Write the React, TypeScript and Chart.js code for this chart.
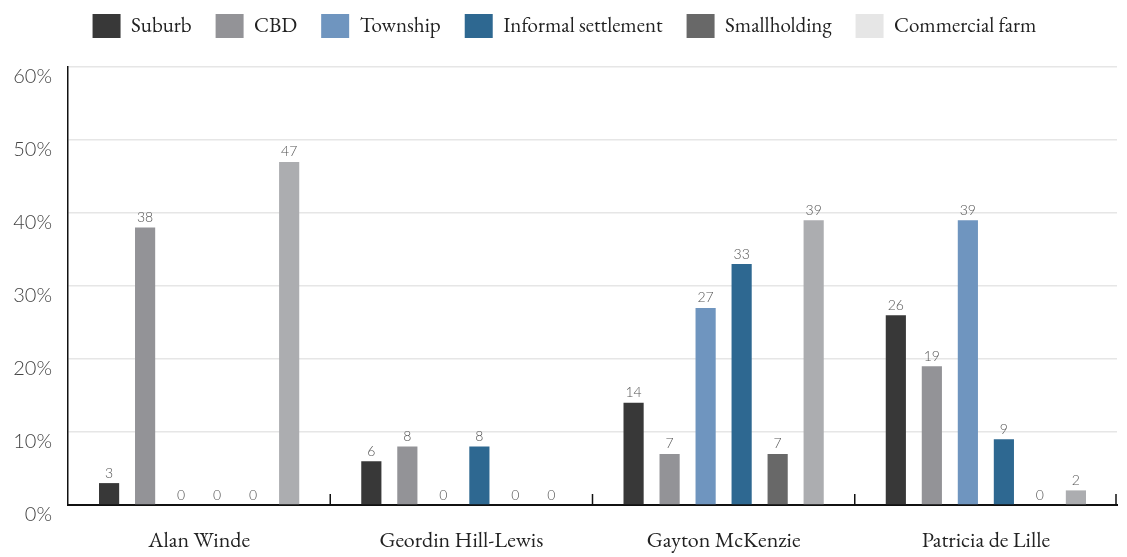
import React, { useEffect, useRef } from "react";
import { Chart, registerables } from "chart.js";

Chart.register(...registerables);

const categories = ["Alan Winde", "Geordin Hill-Lewis", "Gayton McKenzie", "Patricia de Lille"];
const seriesNames = ["Suburb", "CBD", "Township", "Informal settlement", "Smallholding", "Commercial farm"];
const suburb = [3, 6, 14, 26];
const cbd = [38, 8, 7, 19];
const township = [0, 0, 27, 39];
const informal = [0, 8, 33, 9];
const smallholding = [0, 0, 7, 0];
const commercialFarm = [47, 0, 39, 2];
const yTicks = [0, 10, 20, 30, 40, 50, 60];

const barColors = ["#383838", "#939397", "#6f95bf", "#2e6891", "#686868", "#acadb0"];
const legendColors = ["#383838", "#939397", "#6f95bf", "#2e6891", "#686868", "#e6e6e6"];

const SERIF = "'EB Garamond', 'Liberation Serif', 'DejaVu Serif', serif";
const SANS = "Lato, 'Open Sans', sans-serif";

const valueLabels = {
  id: "valueLabels",
  afterDatasetsDraw(chart: any) {
    const ctx = chart.ctx;
    ctx.save();
    ctx.font = `300 14px ${SANS}`;
    ctx.fillStyle = "#555555";
    ctx.textAlign = "center";
    ctx.textBaseline = "bottom";
    chart.data.datasets.forEach((ds: any, di: number) => {
      const meta = chart.getDatasetMeta(di);
      meta.data.forEach((bar: any, i: number) => {
        const v = ds.data[i];
        ctx.fillText(String(v), bar.x, bar.y - 3);
      });
    });
    ctx.restore();
  },
};

const xTickMarks = {
  id: "xTickMarks",
  afterDraw(chart: any) {
    const ctx = chart.ctx;
    const xs = chart.scales.x;
    const bottom = chart.chartArea.bottom;
    ctx.save();
    ctx.strokeStyle = "#111111";
    ctx.lineWidth = 1.5;
    const n = categories.length;
    for (let i = 0; i < n; i++) {
      let px: number;
      if (i < n - 1) {
        px = (xs.getPixelForValue(i) + xs.getPixelForValue(i + 1)) / 2;
      } else {
        px = chart.chartArea.right - 1;
      }
      ctx.beginPath();
      ctx.moveTo(px, bottom);
      ctx.lineTo(px, bottom - 11);
      ctx.stroke();
    }
    ctx.restore();
  },
};

const legendHeight = {
  id: "legendHeight",
  beforeInit(chart: any) {
    const legend = chart.legend;
    if (!legend) return;
    const origFit = legend.fit;
    legend.fit = function () {
      origFit.call(this);
      this.height = 77;
    };
  },
};

export default function App() {
  const ref = useRef<HTMLCanvasElement | null>(null);
  useEffect(() => {
    if (!ref.current) return;
    const seriesData = [suburb, cbd, township, informal, smallholding, commercialFarm];
    const chart = new Chart(ref.current, {
      type: "bar",
      data: {
        labels: categories,
        datasets: seriesNames.map((name, i) => ({
          label: name,
          data: seriesData[i],
          backgroundColor: barColors[i],
          categoryPercentage: 0.824,
          barPercentage: 0.56,
        })),
      },
      options: {
        animation: false,
        responsive: true,
        maintainAspectRatio: false,
        layout: { padding: { left: 4, right: 2, top: 0, bottom: 0 } },
        plugins: {
          tooltip: { enabled: false },
          legend: {
            position: "top",
            align: "center",
            labels: {
              boxWidth: 28,
              boxHeight: 24,
              padding: 24,
              color: "#222222",
              font: { family: SERIF, size: 21 },
              generateLabels(chart: any) {
                const items = Chart.defaults.plugins.legend.labels.generateLabels(chart);
                items.forEach((it: any, i: number) => {
                  it.fillStyle = legendColors[i];
                  it.strokeStyle = legendColors[i];
                  it.lineWidth = 0;
                });
                return items;
              },
            },
          },
        },
        scales: {
          x: {
            grid: { display: false, drawTicks: false },
            border: { display: true, color: "#111111", width: 2 },
            afterFit(scale: any) {
              scale.height = 49;
            },
            ticks: {
              color: "#222222",
              padding: 23,
              font: { family: SERIF, size: 22 },
            },
          },
          y: {
            min: 0,
            max: 60,
            afterBuildTicks(scale: any) {
              scale.ticks = yTicks.map((v) => ({ value: v }));
            },
            afterFit(scale: any) {
              scale.width = 56;
            },
            grid: { color: "#e6e6e6", lineWidth: 1.5, drawTicks: false },
            border: { display: true, color: "#111111", width: 1.5 },
            ticks: {
              color: "#444444",
              padding: 16,
              labelOffset: 10,
              font: { family: SANS, size: 20, weight: "300" },
              callback: (v: any) => `${v}%`,
            },
          },
        },
      } as any,
      plugins: [valueLabels, xTickMarks, legendHeight],
    });
    return () => chart.destroy();
  }, []);
  return (
    <div style={{ position: "absolute", left: "8px", top: "-10px", width: "1111px", height: "564px" }}>
      <canvas ref={ref} />
    </div>
  );
}
